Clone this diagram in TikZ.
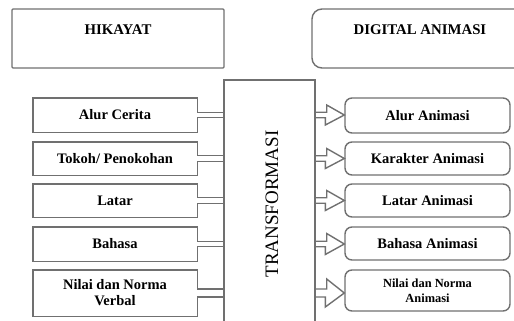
\documentclass[tikz,border=0pt]{standalone}
\usepackage{fontspec}
\setmainfont{Liberation Serif}
\usetikzlibrary{calc}
\definecolor{linegray}{RGB}{112,112,112}
\tikzset{
  ln/.style={draw=linegray, line width=1.4pt},
  lbox/.style={rectangle, minimum width=164pt, inner sep=1pt, align=center,
    font=\bfseries\fontsize{14.5}{16}\selectfont},
  rbox/.style={ln, rectangle, rounded corners=7pt, minimum width=165pt, inner sep=1pt, align=center,
    font=\bfseries\fontsize{14.5}{16}\selectfont},
  ttl/.style={font=\bfseries\fontsize{14.8}{16}\selectfont, inner sep=0pt},
}
\begin{document}
\begin{tikzpicture}[x=1pt,y=-1pt]
\useasboundingbox (0,0) rectangle (514,321);
% title boxes
\node[ln, rectangle, rounded corners=1pt, minimum width=212pt, minimum height=59pt, inner sep=0pt] (hik) at (118,38.5) {};
\node[ttl] (hikt) at (118,30) {HIKAYAT};
\node[ln, rectangle, rounded corners=10pt, minimum width=230pt, minimum height=59pt, inner sep=0pt] (dig) at (427,38.5) {};
\node[ttl] (digt) at (420,30) {DIGITAL ANIMASI};
% transformation box
\node[ln, rectangle, minimum width=91pt, minimum height=260pt, inner sep=0pt] (T) at (269.5,210) {};
\node[rotate=90, font=\fontsize{19}{21}\selectfont, inner sep=0pt] (Tt) at (272,204) {TRANSFORMASI};
% left boxes
\node[lbox, minimum height=34pt] (l1) at (115,115) {Alur Cerita};
\node[lbox, minimum height=33pt] (l2) at (115,158.5) {Tokoh/ Penokohan};
\node[lbox, minimum height=33pt] (l3) at (115,200.5) {Latar};
\node[lbox, minimum height=34pt] (l4) at (115,244) {Bahasa};
\node[lbox, minimum height=46pt] (l5) at (115,293) {Nilai dan Norma\\Verbal};
% right boxes
\node[rbox, minimum height=35pt] (r1) at (427.5,115.5) {Alur Animasi};
\node[rbox, minimum height=33pt] (r2) at (427.5,158.5) {Karakter Animasi};
\node[rbox, minimum height=33pt] (r3) at (427.5,200.5) {Latar Animasi};
\node[rbox, minimum height=33pt] (r4) at (427.5,243.5) {Bahasa Animasi};
\node[rbox, minimum height=41pt, font=\bfseries\fontsize{12.4}{15}\selectfont] (r5) at (427.5,290.5) {Nilai dan Norma\\Animasi};
% left box outlines with tabs joining the transformation box
\foreach \n/\h in {l1/2.75,l2/2.75,l3/2.75,l4/2.75,l5/4}{
  \draw[ln, line join=miter] ([yshift=\h pt]\n.east -| T.west) -- ([yshift=\h pt]\n.east)
    -- (\n.north east) -- (\n.north west) -- (\n.south west) -- (\n.south east)
    -- ([yshift=-\h pt]\n.east) -- ([yshift=-\h pt]\n.east -| T.west);
}
% right arrows
\foreach \n/\r/\h/\H in {l1/r1/2.75/10,l2/r2/2.75/10,l3/r3/2.75/10,l4/r4/2.75/10.5,l5/r5/4/14}{
  \draw[ln, line join=miter] ([yshift=\h pt]T.east |- \n.east) -- ++(11,0) -- ++(0,{-(\H-\h)})
    -- (\r.west |- \n.east) -- ++(-19,\H) -- ++(0,{-(\H-\h)}) -- ++(-11,0);
}
\end{tikzpicture}
\end{document}
